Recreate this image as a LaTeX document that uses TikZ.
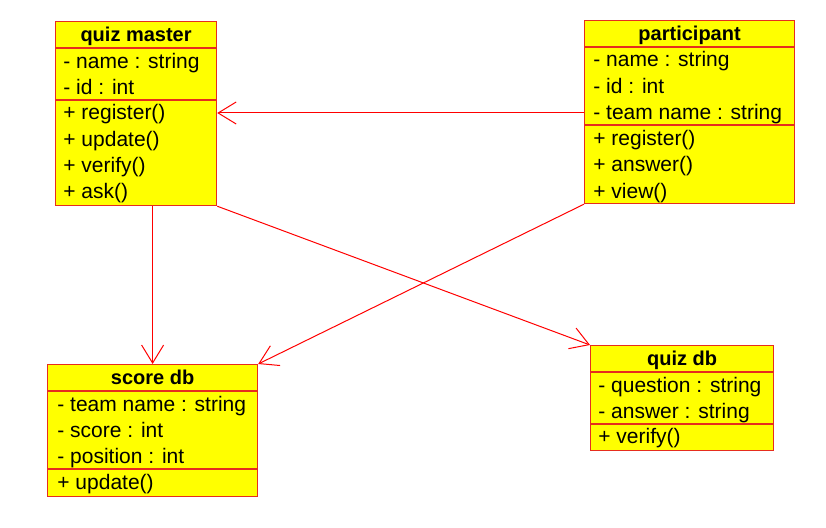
\documentclass[tikz,border=0pt]{standalone}
\usepackage{fontspec}
\setmainfont{Liberation Sans}
\usetikzlibrary{arrows.meta, calc}

\definecolor{boxred}{RGB}{230,45,30}
\definecolor{boxyellow}{RGB}{255,255,0}
\definecolor{linkred}{RGB}{255,0,0}

\tikzset{
	classbox/.style={draw=boxred, fill=boxyellow, line width=0.6pt, inner sep=0pt, anchor=north west},
	sepline/.style={draw=boxred, line width=0.6pt},
	classname/.style={font=\bfseries\fontsize{10}{12}\selectfont, inner sep=0pt, text height=8.5pt, text depth=2pt},
	member/.style={font=\fontsize{10.5}{12}\selectfont, anchor=west, inner sep=0pt, text height=9pt, text depth=2.2pt},
	link/.style={draw=linkred, line width=0.5pt, -{Straight Barb[length=9pt, width=11pt]}},
}

\begin{document}
\begin{tikzpicture}[x=0.5pt, y=-0.5pt]
	\useasboundingbox (0,0) rectangle (826,528);
	
	% class boxes
	\node[classbox, minimum width=80.5pt, minimum height=92pt] (qm) at (55,21) {};
	\node[classbox, minimum width=105pt, minimum height=91.5pt] (pt) at (584,20) {};
	\node[classbox, minimum width=105pt, minimum height=66pt] (sd) at (47,364) {};
	\node[classbox, minimum width=91.5pt, minimum height=52.5pt] (qd) at (590,345) {};
	
	% quiz master
	\draw[sepline] ($(qm.north west)+(0,27)$) -- ($(qm.north east)+(0,27)$);
	\draw[sepline] ($(qm.north west)+(0,79)$) -- ($(qm.north east)+(0,79)$);
	\node[classname] (qmt) at ($(qm.north)+(0,14)$) {quiz master};
	\node[member] (qm1) at (63,62) {- name : string};
	\node[member] (qm2) at (63,88) {- id : int};
	\node[member] (qm3) at (63,113) {+ register()};
	\node[member] (qm4) at (63,140) {+ update()};
	\node[member] (qm5) at (63,166) {+ verify()};
	\node[member] (qm6) at (63,192) {+ ask()};
	
	% participant
	\draw[sepline] ($(pt.north west)+(0,27)$) -- ($(pt.north east)+(0,27)$);
	\draw[sepline] ($(pt.north west)+(0,105)$) -- ($(pt.north east)+(0,105)$);
	\node[classname] (ptt) at ($(pt.north)+(0,14)$) {participant};
	\node[member] (pt1) at (593,60) {- name : string};
	\node[member] (pt2) at (593,87) {- id : int};
	\node[member] (pt3) at (593,113) {- team name : string};
	\node[member] (pt4) at (593,139) {+ register()};
	\node[member] (pt5) at (593,165) {+ answer()};
	\node[member] (pt6) at (593,192) {+ view()};
	
	% score db
	\draw[sepline] ($(sd.north west)+(0,27)$) -- ($(sd.north east)+(0,27)$);
	\draw[sepline] ($(sd.north west)+(0,105)$) -- ($(sd.north east)+(0,105)$);
	\node[classname] (sdt) at ($(sd.north)+(0,14)$) {score db};
	\node[member] (sd1) at (57,405) {- team name : string};
	\node[member] (sd2) at (57,431) {- score : int};
	\node[member] (sd3) at (57,457) {- position : int};
	\node[member] (sd4) at (57,483) {+ update()};
	
	% quiz db
	\draw[sepline] ($(qd.north west)+(0,27)$) -- ($(qd.north east)+(0,27)$);
	\draw[sepline] ($(qd.north west)+(0,79)$) -- ($(qd.north east)+(0,79)$);
	\node[classname] (qdt) at ($(qd.north)+(0,14)$) {quiz db};
	\node[member] (qd1) at (598,386) {- question : string};
	\node[member] (qd2) at (598,412) {- answer : string};
	\node[member] (qd3) at (598,437) {+ verify()};
	
	% links
	\draw[link] (pt.west |- qm3) -- (qm.east |- qm3);
	\draw[link] (sd.north |- qm.south) -- (sd.north);
	\draw[link] (qm.south east) -- (qd.north west);
	\draw[link] (pt.south west) -- (sd.north east);
\end{tikzpicture}
\end{document}
